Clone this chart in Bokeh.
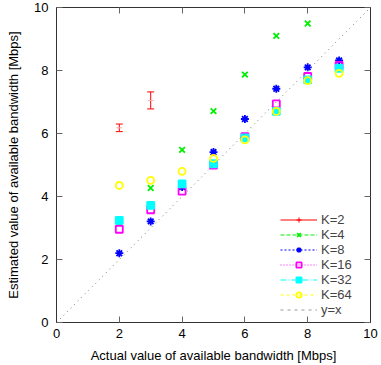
from bokeh.plotting import figure
from bokeh.models import Range1d, LinearAxis, FixedTicker, Legend, LegendItem, Whisker, ColumnDataSource, TeeHead
from bokeh.embed import file_html
from bokeh.resources import INLINE

# ---- data ----
actual = [2, 3, 4, 5, 6, 7, 8, 9]
k2_x = [2, 3]
k2_y = [6.18, 7.05]
k2_err = [0.12, 0.27]
k4_x = [2, 3, 4, 5, 6, 7, 8]
k4_y = [3.15, 4.27, 5.48, 6.71, 7.87, 9.10, 9.49]
k8_y = [2.20, 3.21, 4.30, 5.41, 6.46, 7.42, 8.10, 8.32]
k16_y = [2.96, 3.58, 4.17, 5.00, 5.90, 6.94, 7.81, 8.16]
k32_y = [3.24, 3.72, 4.40, 5.04, 5.86, 6.70, 7.70, 8.07]
k64_y = [4.35, 4.51, 4.80, 5.21, 5.80, 6.70, 7.68, 7.91]
diag = [0, 10]
ticks = [0, 2, 4, 6, 8, 10]
NAN = [float("nan")]

FONT = "Liberation Sans"
FRAME = "#333333"

p = figure(width=381, height=365, output_backend="svg", toolbar_location=None,
           x_range=Range1d(0, 10), y_range=Range1d(0, 10),
           min_border_left=56, min_border_right=11, min_border_top=7, min_border_bottom=43)
p.grid.visible = False
p.outline_line_color = FRAME
p.outline_line_width = 1

for ax in (p.xaxis[0], p.yaxis[0]):
    ax.ticker = FixedTicker(ticks=ticks)
    ax.major_tick_in = 6
    ax.major_tick_out = 0
    ax.minor_tick_line_color = None
    ax.axis_line_color = FRAME
    ax.major_tick_line_color = "#666666"
    ax.major_label_text_font = FONT
    ax.major_label_text_font_size = "13px"
    ax.major_label_text_color = "#000000"
    ax.axis_label_text_font = FONT
    ax.axis_label_text_font_size = "13px"
    ax.axis_label_text_font_style = "normal"
    ax.axis_label_text_color = "#000000"

p.xaxis.axis_label = "Actual value of available bandwidth [Mbps]"
p.yaxis.axis_label = "Estimated value of available bandwidth [Mbps]"
p.xaxis.major_label_standoff = 6
p.yaxis.major_label_standoff = 8
p.xaxis.axis_label_standoff = 7
p.yaxis.axis_label_standoff = 10

for side in ("above", "right"):
    ax = LinearAxis(ticker=FixedTicker(ticks=ticks), major_tick_in=6, major_tick_out=0,
                    minor_tick_line_color=None, axis_line_color=FRAME,
                    major_tick_line_color="#666666",
                    major_label_overrides={t: "" for t in ticks}, major_label_standoff=0)
    p.add_layout(ax, side)

# ---- K=2 error bars ----
src2 = ColumnDataSource(dict(x=k2_x, y=k2_y,
                             lo=[a - b for a, b in zip(k2_y, k2_err)],
                             hi=[a + b for a, b in zip(k2_y, k2_err)]))
wh = Whisker(source=src2, base="x", lower="lo", upper="hi", line_color="#ff0000", line_width=1,
             upper_head=TeeHead(size=7, line_color="#ff0000", line_width=1),
             lower_head=TeeHead(size=7, line_color="#ff0000", line_width=1))
p.add_layout(wh)
l2 = p.line(x=NAN, y=NAN, line_color="#ff0000", line_width=1)
s2 = p.scatter(k2_x, k2_y, marker="dash", size=6, line_color="#ffaaaa", line_width=1)
s2l = p.scatter(NAN, NAN, marker="cross", size=7, line_color="#ff0000", line_width=1)

series = [
    ("K=4", k4_x, k4_y, "#00ee00", "x", None, "4 2", 8),
    ("K=8", actual, k8_y, "#0000ff", "asterisk", None, "2 2", 8),
    ("K=16", actual, k16_y, "#ff00ff", "square", None, "1 2", 7),
    ("K=32", actual, k32_y, "#00ffff", "square", "#00ffff", "6 2 1 2", 7),
    ("K=64", actual, k64_y, "#ffff00", "circle", None, "3 3", 7),
]
items = [LegendItem(label="K=2", renderers=[l2, s2l])]
for name, xs, ys, col, mk, fill, dash, sz in series:
    lr = p.line(x=NAN, y=NAN, line_color=col, line_width=1, line_dash=dash)
    sr = p.scatter(xs, ys, marker=mk, size=sz, line_color=col, line_width=1.8,
                   fill_color=fill, fill_alpha=1 if fill else 0)
    items.append(LegendItem(label=name, renderers=[lr, sr]))

dl = p.line(diag, diag, line_color="#777777", line_width=1, line_dash="1 4")
dleg = p.line(x=NAN, y=NAN, line_color="#999999", line_width=1, line_dash="3 4")
items.append(LegendItem(label="y=x", renderers=[dleg]))

leg = Legend(items=items, location="bottom_right", label_text_font=FONT,
             label_text_font_size="13px", label_text_line_height=1.0,
             glyph_width=37, glyph_height=13,
             label_height=13, spacing=0, padding=0, margin=0, label_standoff=4,
             background_fill_alpha=0, border_line_alpha=0)
leg.location = (224, 5)
p.add_layout(leg)

open("out.html", "w").write(file_html(p, INLINE))
